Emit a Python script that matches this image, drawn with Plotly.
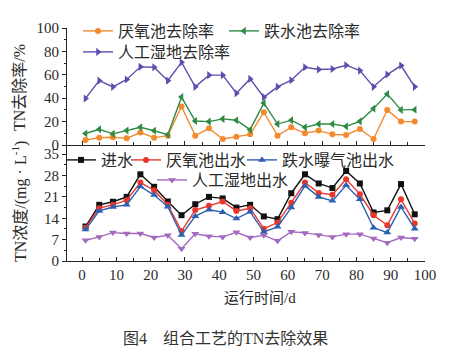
import plotly.graph_objects as go

days = [1, 5, 9, 13, 17, 21, 25, 29, 33, 37, 41, 45, 49, 53, 57, 61, 65, 69, 73, 77, 81, 85, 89, 93, 97]

# removal rates (%)
rate_anaerobic = [4.3, 6.3, 6.6, 5.7, 10.6, 6.3, 8.0, 32.9, 8.0, 14.3, 5.1, 7.1, 9.1,
                  28.0, 8.0, 15.1, 10.0, 12.3, 9.1, 8.6, 13.7, 5.1, 30.0, 20.0, 20.0]
rate_drop = [9.8, 13.4, 9.5, 12.4, 15.1, 12.2, 8.8, 41.0, 20.5, 20.0, 22.3, 21.2, 13.1,
             35.8, 17.9, 21.2, 15.1, 17.9, 17.9, 15.9, 20.2, 31.1, 43.6, 30.0, 30.2]
rate_wetland = [39.8, 55.0, 49.7, 56.0, 66.8, 66.5, 55.0, 70.7, 49.7, 59.7, 59.7, 44.3, 56.5,
                40.9, 49.7, 55.4, 66.5, 64.5, 65.0, 68.2, 63.6, 49.7, 60.2, 67.9, 49.7]

# concentrations (mg/L)
c_inflow = [11.3, 18.4, 19.4, 21.0, 28.4, 24.3, 19.5, 15.0, 18.6, 21.0, 20.5, 17.5, 18.4,
            14.6, 13.7, 22.2, 28.4, 25.4, 23.9, 29.5, 25.4, 15.9, 16.6, 25.2, 15.3]
c_anaerobic = [10.9, 17.3, 18.4, 19.9, 25.7, 23.2, 18.4, 9.8, 16.7, 18.1, 19.5, 16.4, 17.3,
               10.6, 12.6, 19.1, 25.7, 22.3, 21.7, 26.8, 21.9, 15.0, 11.7, 20.2, 12.3]
c_drop = [10.3, 16.4, 17.7, 18.4, 24.4, 21.6, 17.8, 8.5, 14.7, 16.8, 16.0, 13.9, 16.1,
          9.5, 11.2, 17.5, 24.6, 21.0, 19.7, 24.8, 20.2, 10.9, 9.3, 17.7, 10.6]
c_wetland = [6.8, 7.9, 9.3, 9.0, 9.0, 7.7, 8.4, 4.0, 8.9, 8.1, 7.9, 9.4, 7.7,
             8.4, 6.6, 9.6, 9.2, 8.5, 7.9, 8.8, 8.8, 7.4, 6.0, 7.7, 7.3]

x_ticks = [0, 10, 20, 30, 40, 50, 60, 70, 80, 90, 100]
y_top_ticks = [0, 20, 40, 60, 80, 100]
y_bot_ticks = [0, 7, 14, 21, 28, 35]

FONT = "Liberation Serif, Noto Sans CJK SC"
TXT = "#2a2a2a"

fig = go.Figure()

def add(y, name, color, symbol, xa, ya, legend, size=6):
    fig.add_trace(go.Scatter(
        x=days, y=y, name=name, mode="lines+markers", showlegend=True,
        line=dict(color=color, width=1.4),
        marker=dict(color=color, symbol=symbol, size=size),
        xaxis=xa, yaxis=ya, legend=legend))

add(rate_anaerobic, "厌氧池去除率", "#f28a2e", "circle", "x2", "y2", "legend")
add(rate_drop, "跌水池去除率", "#2f8a43", "triangle-left", "x2", "y2", "legend2", 7)
add(rate_wetland, "人工湿地去除率", "#5a4fae", "triangle-right", "x2", "y2", "legend3", 7)
add(c_inflow, "进水", "#111111", "square", "x", "y", "legend4")
add(c_anaerobic, "厌氧池出水", "#e8382e", "circle", "x", "y", "legend5")
add(c_drop, "跌水曝气池出水", "#2e5fb0", "triangle-up", "x", "y", "legend6", 7)
add(c_wetland, "人工湿地出水", "#a36bbf", "triangle-down", "x", "y", "legend7", 7)

L, R, T, B = 67, 36, 28, 89
W, H = 461, 350
pw, ph = W - L - R, H - T - B

def px(xp):
    return (xp - L) / pw

def py(yp):
    return (H - B - yp) / ph

split = py(145)

axis_common = dict(showline=True, linecolor="#222", linewidth=1, showgrid=False,
                   zeroline=False, tickcolor="#222", ticklen=4,
                   tickfont=dict(family=FONT, size=15, color=TXT))

fig.update_layout(
    width=W, height=H,
    margin=dict(l=L, r=R, t=T, b=B),
    paper_bgcolor="white", plot_bgcolor="white",
    showlegend=True,
    font=dict(family=FONT, color=TXT),
    xaxis=dict(domain=[0, 1], range=[-4.4, 100], tickvals=x_ticks, ticks="inside",
               minor=dict(ticks="inside", dtick=5, ticklen=3, tickcolor="#222"),
               anchor="y", **axis_common),
    xaxis2=dict(domain=[0, 1], range=[-4.4, 100], tickvals=x_ticks, ticks="inside",
                minor=dict(ticks="inside", dtick=5, ticklen=3, tickcolor="#222"),
                showticklabels=False, anchor="y2", **axis_common),
    yaxis=dict(domain=[0, split], range=[0, 38], tickvals=y_bot_ticks, ticks="outside",
               minor=dict(ticks="outside", tickvals=[3.5, 10.5, 17.5, 24.5, 31.5], ticklen=2, tickcolor="#222"),
               anchor="x", **axis_common),
    yaxis2=dict(domain=[split, 1], range=[0, 100], tickvals=y_top_ticks, ticks="outside",
                minor=dict(ticks="outside", tickvals=[10, 30, 50, 70, 90], ticklen=2, tickcolor="#222"),
                anchor="x2", **axis_common),
)

# legend text start positions (px) minus symbol offset
legend_pos = {
    "legend": (78, 31), "legend2": (224, 31), "legend3": (78, 52),
    "legend4": (61, 160), "legend5": (126, 160), "legend6": (242, 160), "legend7": (152, 180),
}
for key, (xp, yp) in legend_pos.items():
    fig.update_layout({key: dict(x=px(xp), y=py(yp), xanchor="left", yanchor="middle",
                                 bgcolor="rgba(0,0,0,0)", borderwidth=0,
                                 font=dict(family=FONT, size=16, color=TXT),
                                 itemwidth=30, tracegroupgap=0)})

ann_font = dict(family=FONT, size=16, color=TXT)
fig.add_annotation(text="TN去除率/%", x=px(19), y=py(88), xref="paper", yref="paper",
                   xanchor="center", yanchor="middle",
                   textangle=-90, showarrow=False, font=ann_font)
fig.add_annotation(text="TN浓度/(mg · L<sup>-1</sup>)", x=px(19), y=py(202), xref="paper", yref="paper",
                   xanchor="center", yanchor="middle",
                   textangle=-90, showarrow=False, font=ann_font)
fig.add_annotation(text="运行时间/d", x=px(260), y=py(298), xref="paper", yref="paper",
                   xanchor="center", yanchor="middle",
                   showarrow=False, font=dict(family=FONT, size=15, color=TXT))
fig.add_annotation(text="图4　组合工艺的TN去除效果", x=px(225), y=py(338), xref="paper", yref="paper",
                   xanchor="center", yanchor="middle",
                   showarrow=False, font=dict(family=FONT, size=16, color="#333"))

fig.write_html("out.html")
